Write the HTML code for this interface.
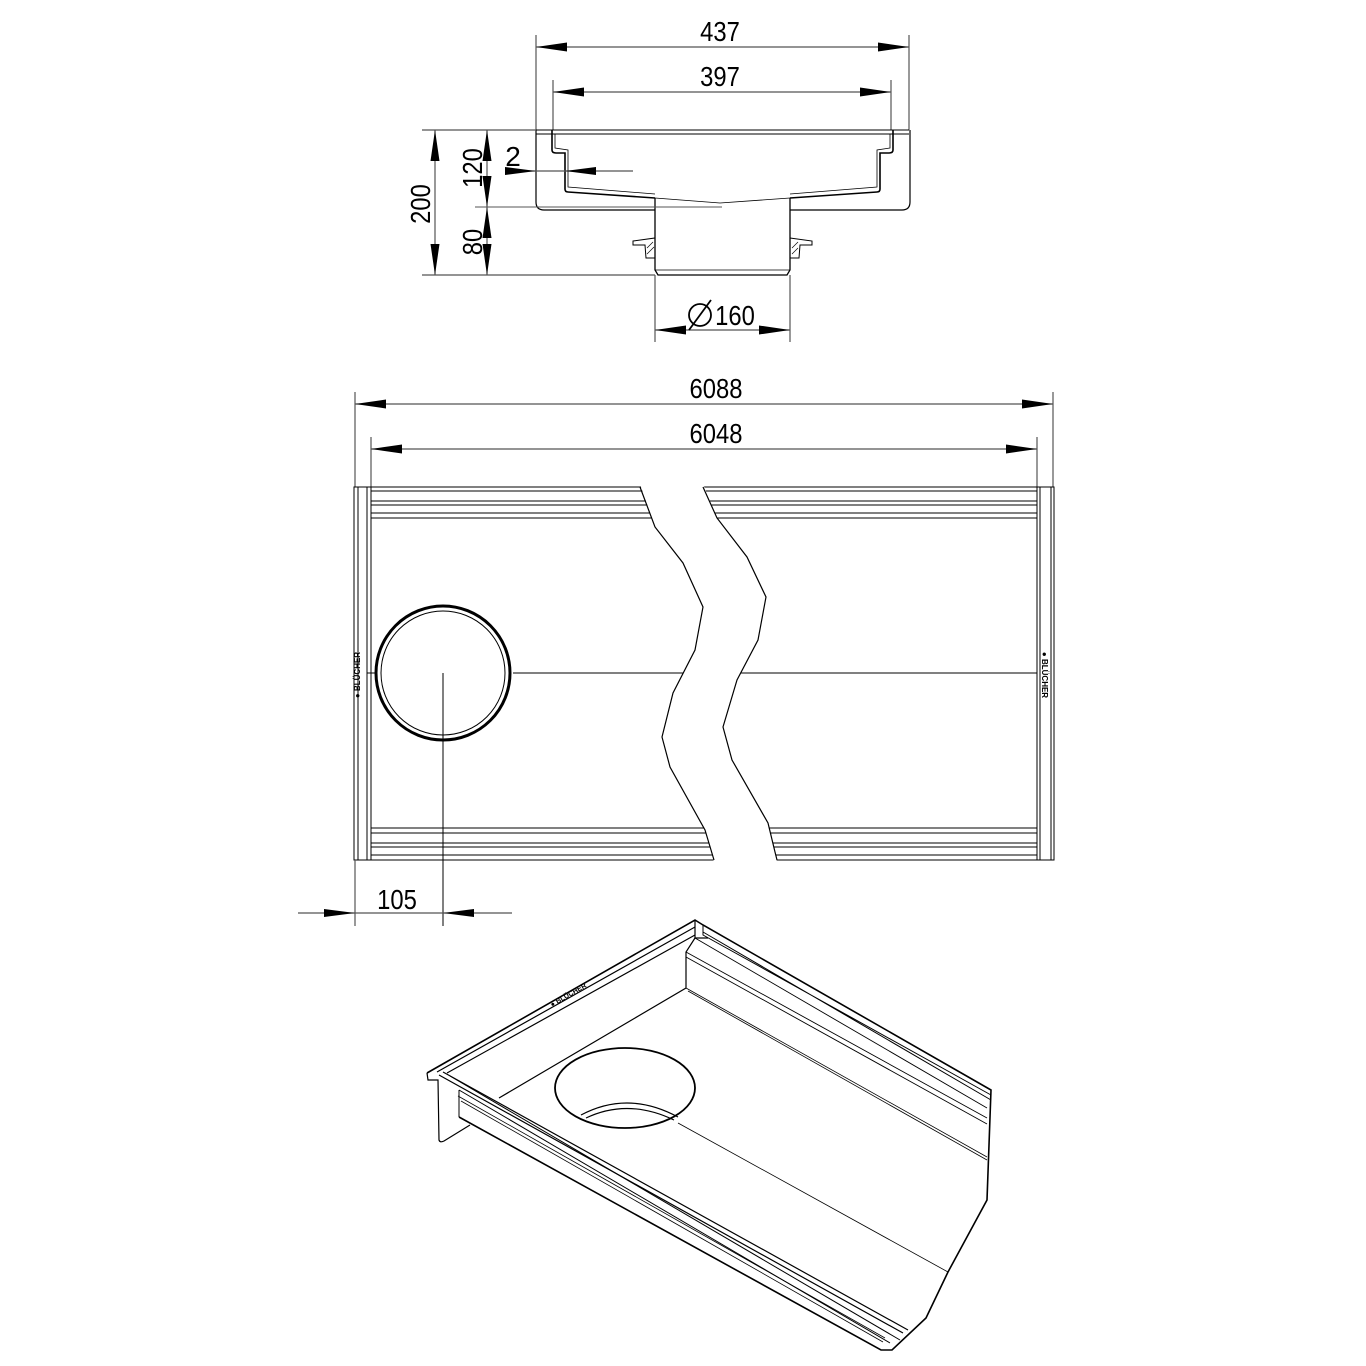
<!DOCTYPE html>
<html><head><meta charset="utf-8"><style>
html,body{margin:0;padding:0;background:#fff;}
svg{display:block;}
text{font-family:"Liberation Sans",sans-serif;fill:#000;}
</style></head><body>
<svg width="1366" height="1366" viewBox="0 0 1366 1366" xmlns="http://www.w3.org/2000/svg">
<defs>
<marker id="a" viewBox="0 0 32 10" refX="31" refY="5" markerWidth="32" markerHeight="10" markerUnits="userSpaceOnUse" orient="auto-start-reverse"><path d="M31,5 L0,0.5 L0,9.5 Z" fill="#000"/></marker>
</defs>
<g stroke="#000" fill="none" stroke-width="1.2">
<!-- ===== top dims ===== -->
<line x1="536" y1="35" x2="536" y2="130" stroke="#555"/>
<line x1="909" y1="35" x2="909" y2="130" stroke="#555"/>
<line x1="553" y1="80" x2="553" y2="130" stroke="#555"/>
<line x1="891" y1="80" x2="891" y2="130" stroke="#555"/>
<line x1="536" y1="47" x2="909" y2="47" stroke="#555" marker-start="url(#a)" marker-end="url(#a)"/>
<line x1="553" y1="92" x2="891" y2="92" stroke="#555" marker-start="url(#a)" marker-end="url(#a)"/>
<!-- section body -->
<path d="M536,130 L909,130 M536,134 L909,134" stroke-width="1"/>
<path d="M536,130 L536,202 Q536,210 544,210 L655,210 M790,210 L902,210 Q910,210 910,202 L910,130" stroke-width="1.2"/>
<path d="M552,130 L552,150 Q552,153 556,153 L565,153 L565,189 Q565,192 568,192 L655,198" stroke-width="1.6"/>
<path d="M555,134 L555,148 L568,150 L568,187 L655,194" stroke-width="0.8"/>
<path d="M893,130 L893,150 Q893,153 889,153 L880,153 L880,189 Q880,192 877,192 L790,198" stroke-width="1.6"/>
<path d="M890,134 L890,148 L877,150 L877,187 L790,194" stroke-width="0.8"/>
<path d="M655,198 L720,203 L790,198" stroke-width="0.8"/>
<path d="M655,198 L655,270 L658,275 L787,275 L790,270 L790,198" stroke-width="1.3"/>
<line x1="655" y1="270" x2="790" y2="270" stroke-width="0.8"/>
<path d="M633,241 L655,238 L655,258 L646,258 L645,245 L633,245 Z M790,238 L812,241 L812,245 L800,245 L799,258 L790,258 Z" stroke-width="1"/>
<path d="M647,248 L653,242 M647,254 L654,247 M792,248 L798,242 M792,254 L798,248" stroke-width="0.7"/>
<!-- vertical dims -->
<line x1="422" y1="130" x2="536" y2="130" stroke="#555"/>
<line x1="422" y1="275" x2="655" y2="275" stroke="#555"/>
<line x1="475" y1="207" x2="722" y2="207" stroke="#555" stroke-width="0.9"/>
<line x1="435" y1="130" x2="435" y2="275" stroke="#555" marker-start="url(#a)" marker-end="url(#a)"/>
<line x1="487" y1="130" x2="487" y2="207" stroke="#555" marker-start="url(#a)" marker-end="url(#a)"/>
<line x1="487" y1="207" x2="487" y2="275" stroke="#555" marker-start="url(#a)" marker-end="url(#a)"/>
<line x1="507" y1="171" x2="633" y2="171" stroke="#555"/>
<path d="M536,171 L505,167 L505,175 Z M565,171 L596,167 L596,175 Z" fill="#000" stroke="none"/>
<line x1="655" y1="275" x2="655" y2="342" stroke="#555"/>
<line x1="790" y1="275" x2="790" y2="342" stroke="#555"/>
<line x1="655" y1="330" x2="790" y2="330" stroke="#555" marker-start="url(#a)" marker-end="url(#a)"/>
<!-- ===== top view dims ===== -->
<line x1="355" y1="392" x2="355" y2="487" stroke="#555"/>
<line x1="1053" y1="392" x2="1053" y2="487" stroke="#555"/>
<line x1="371" y1="437" x2="371" y2="487" stroke="#555"/>
<line x1="1037" y1="437" x2="1037" y2="487" stroke="#555"/>
<line x1="355" y1="404" x2="1053" y2="404" stroke="#555" marker-start="url(#a)" marker-end="url(#a)"/>
<line x1="371" y1="449" x2="1037" y2="449" stroke="#555" marker-start="url(#a)" marker-end="url(#a)"/>
<!-- top view body -->
<g stroke-width="1">
<rect x="354" y="487" width="700" height="373"/>
<line x1="358" y1="487" x2="358" y2="860"/>
<line x1="367" y1="487" x2="367" y2="860"/>
<line x1="371" y1="487" x2="371" y2="860"/>
<line x1="1037" y1="487" x2="1037" y2="860"/>
<line x1="1040" y1="487" x2="1040" y2="860"/>
<line x1="1051" y1="487" x2="1051" y2="860"/>
<path d="M371,491 H1037 M371,501 H1037 M371,505 H1037 M371,513 H1037 M371,518 H1037"/>
<path d="M371,828 H1037 M371,833 H1037 M371,843 H1037 M371,847 H1037 M371,855 H1037"/>
<line x1="513" y1="673" x2="1037" y2="673"/>
<line x1="367" y1="673" x2="375" y2="673"/>
</g>
<path d="M640,484 L655,527 L683,563 L703,607 L695,650 L673,693 L662,737 L670,767 L705,830 L714,862 L777,862 L775,852 L768,823 L732,760 L723,727 L737,680 L758,640 L766,597 L747,557 L717,518 L703,484 Z" fill="#fff" stroke="none"/>
<path d="M640,487 L655,527 L683,563 L703,607 L695,650 L673,693 L662,737 L670,767 L705,830 L714,860" stroke-width="1.2"/>
<path d="M703,487 L717,518 L747,557 L766,597 L758,640 L737,680 L723,727 L732,760 L768,823 L775,852 L777,860" stroke-width="1.2"/>
<circle cx="443" cy="673" r="67" stroke-width="3"/>
<circle cx="443" cy="673" r="62" stroke-width="1"/>
<line x1="443" y1="673" x2="443" y2="926" stroke-width="1"/>
<line x1="355" y1="860" x2="355" y2="926" stroke="#555"/>
<line x1="298" y1="913" x2="512" y2="913" stroke="#555"/>
<path d="M355,913 L324,909 L324,917 Z M443,913 L474,909 L474,917 Z" fill="#000" stroke="none"/>
<!-- ===== 3D view ===== -->
<g stroke-width="1.2">
<path d="M427,1073 L695,920 L703,925 L991,1090 L987,1200 L948,1272 L926,1318 L892,1350 L881,1350 L459,1117" stroke-width="1.6"/>
<path d="M427,1073 L428,1080 L438,1080 L439,1140 Q440,1143 444,1141 L470,1125"/>
<path d="M439,1075 L903,1333 M443,1072 L908,1330"/>
<path d="M450,1076 L900,1340" stroke-width="1"/>
<path d="M459,1090 L459,1117 M459,1090 L890,1343" stroke-width="1"/>
<path d="M458,1096 L885,1338 M461,1101 L883,1342" stroke-width="0.8"/>
<path d="M437,1072 L695,927 M447,1073 L695,935 M695,920 L695,938 L708,938"/>
<path d="M703,925 L703,935 L991,1095 M703,932 L991,1100" stroke-width="1"/>
<path d="M695,938 L987,1108 M686,952 L987,1118 M686,957 L987,1124" stroke-width="0.9"/>
<path d="M695,938 L686,952 L686,988 L499,1098"/>
<path d="M686,988 L987,1157 M688,991 L987,1160" stroke-width="0.8"/>
<path d="M678,1123 L948,1272" stroke-width="0.8"/>
<ellipse cx="625" cy="1088" rx="70" ry="40" stroke-width="1.8"/>
<path d="M581,1115 Q628,1090 678,1117 M586,1118 Q628,1098 674,1120" stroke-width="1.2"/>
</g>
</g>
<!-- text -->
<g font-size="28">
<text x="720" y="41" text-anchor="middle" transform="translate(720 0) scale(0.85 1) translate(-720 0)">437</text>
<text x="720" y="86" text-anchor="middle" transform="translate(720 0) scale(0.85 1) translate(-720 0)">397</text>
<text x="716" y="398" text-anchor="middle" transform="translate(716 0) scale(0.85 1) translate(-716 0)">6088</text>
<text x="716" y="443" text-anchor="middle" transform="translate(716 0) scale(0.85 1) translate(-716 0)">6048</text>
<text x="397" y="909" text-anchor="middle" transform="translate(397 0) scale(0.85 1) translate(-397 0)">105</text>
<text x="513" y="166" text-anchor="middle">2</text>
<text x="735" y="325" text-anchor="middle" transform="translate(735 0) scale(0.85 1) translate(-735 0)">160</text>
<text transform="translate(430 204) rotate(-90) scale(0.85 1)" text-anchor="middle">200</text>
<text transform="translate(482 168) rotate(-90) scale(0.85 1)" text-anchor="middle">120</text>
<text transform="translate(482 242) rotate(-90) scale(0.85 1)" text-anchor="middle">80</text>
</g>
<g stroke="#000" fill="none" stroke-width="1.8"><circle cx="700" cy="315" r="11"/><line x1="689" y1="330" x2="711" y2="300"/></g>
<g font-size="8" font-weight="bold">
<text transform="translate(360 675) rotate(-90)" text-anchor="middle">● BLÜCHER</text>
<text transform="translate(1042 675) rotate(90)" text-anchor="middle">● BLÜCHER</text>
<text transform="translate(552 1007) rotate(-30)" font-size="7">● BLÜCHER</text>
</g>
</svg>
</body></html>
